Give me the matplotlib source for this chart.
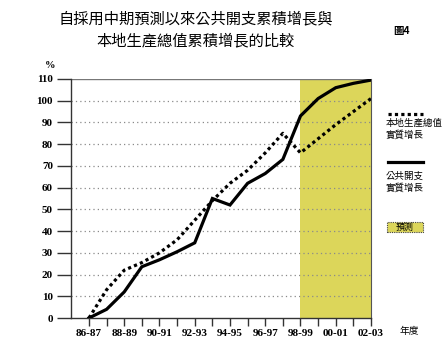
import matplotlib
matplotlib.use("Agg")
import matplotlib.pyplot as plt
from matplotlib.patches import Rectangle
from matplotlib.lines import Line2D

years = ["86-87", "87-88", "88-89", "89-90", "90-91", "91-92", "92-93", "93-94",
         "94-95", "95-96", "96-97", "97-98", "98-99", "99-00", "00-01", "01-02", "02-03"]
gdp_growth = [0, 13, 22, 25.5, 30, 36, 45, 54, 62, 68, 76, 85, 76, 82.5, 89, 95, 101]
spending_growth = [0, 4, 12, 23.6, 26.8, 30.5, 34.6, 55, 52, 62, 66.5, 73, 93, 101, 106, 108, 109.5]
yticks = list(range(0, 111, 10))
forecast_start = "98-99"

W, H = 446, 354
fig = plt.figure(figsize=(W / 100, H / 100), dpi=100)
fig.patch.set_facecolor("white")

def fx(x):
    return x / W

def fy(y):
    return 1 - y / H

ax = fig.add_axes([fx(71), fy(318), 300 / W, 239 / H])
x = list(range(len(years)))
ax.set_xlim(-1.02, len(years) - 1)
ax.set_ylim(0, 110)

fs = years.index(forecast_start)
ax.axvspan(fs, len(years) - 1, facecolor="#dcd65a", edgecolor="none", zorder=0)

for v in yticks[1:-1]:
    ax.axhline(v, color="#8a8a8a", lw=0.9, ls=(0, (1, 2.5)), zorder=1)
ax.axhline(110, color="#777777", lw=1.0, zorder=1)

ax.plot(x, gdp_growth, color="black", lw=2.3, ls=(0, (1.0, 1.0)),
        dash_capstyle="butt", zorder=3)
ax.plot(x, spending_growth, color="black", lw=2.3, solid_joinstyle="miter", zorder=4)

ax.spines["top"].set_visible(False)
ax.spines["right"].set_color("#555555")
ax.spines["right"].set_linewidth(0.8)
ax.spines["left"].set_color("#333333")
ax.spines["left"].set_linewidth(1.0)
ax.spines["bottom"].set_color("#333333")
ax.spines["bottom"].set_linewidth(1.0)

numfont = dict(family="Liberation Serif", weight="bold", size=8)
ax.set_yticks(yticks)
ax.set_yticklabels([str(v) for v in yticks], **numfont)
ax.set_xticks(x)
ax.set_xticklabels([y if i % 2 == 0 else "" for i, y in enumerate(years)], **numfont)
ax.tick_params(axis="y", length=10, width=1.0, color="#333333", pad=3)
ax.tick_params(axis="x", length=6, width=1.0, color="#333333", pad=2)

cjk = ["Noto Sans CJK TC", "DejaVu Sans"]
fig.text(fx(196), fy(19), "自採用中期預測以來公共開支累積增長與", family=cjk,
         size=11, ha="center", va="center")
fig.text(fx(196), fy(41), "本地生產總值累積增長的比較", family=cjk,
         size=11, ha="center", va="center")
fig.text(fx(402), fy(31), "圖4", family=cjk, size=7.5, weight="bold",
         ha="center", va="center")
fig.text(fx(50), fy(66), "%", family="Liberation Serif", weight="bold", size=7.5,
         ha="center", va="center")
fig.text(fx(409), fy(331), "年度", family=cjk, size=7, ha="center", va="center")

# legend
fig.add_artist(Line2D([fx(388), fx(423)], [fy(114), fy(114)], color="black", lw=2.3,
                      ls=(0, (1.0, 1.0)), dash_capstyle="butt"))
fig.text(fx(386), fy(123), "本地生產總值", family=cjk, size=6.8, ha="left", va="center")
fig.text(fx(386), fy(135), "實質增長", family=cjk, size=6.8, ha="left", va="center")
fig.add_artist(Line2D([fx(388), fx(423)], [fy(162), fy(162)], color="black", lw=2.3))
fig.text(fx(386), fy(176), "公共開支", family=cjk, size=6.8, ha="left", va="center")
fig.text(fx(386), fy(188), "實質增長", family=cjk, size=6.8, ha="left", va="center")
fig.add_artist(Rectangle((fx(387), fy(232)), 36 / W, 10 / H, transform=fig.transFigure,
                         facecolor="#dcd65a", edgecolor="#444444", lw=0.8, ls=(0, (1, 1))))
fig.text(fx(405), fy(227), "預測", family=cjk, size=6.5, ha="center", va="center")

fig.savefig("out.png", dpi=100)
